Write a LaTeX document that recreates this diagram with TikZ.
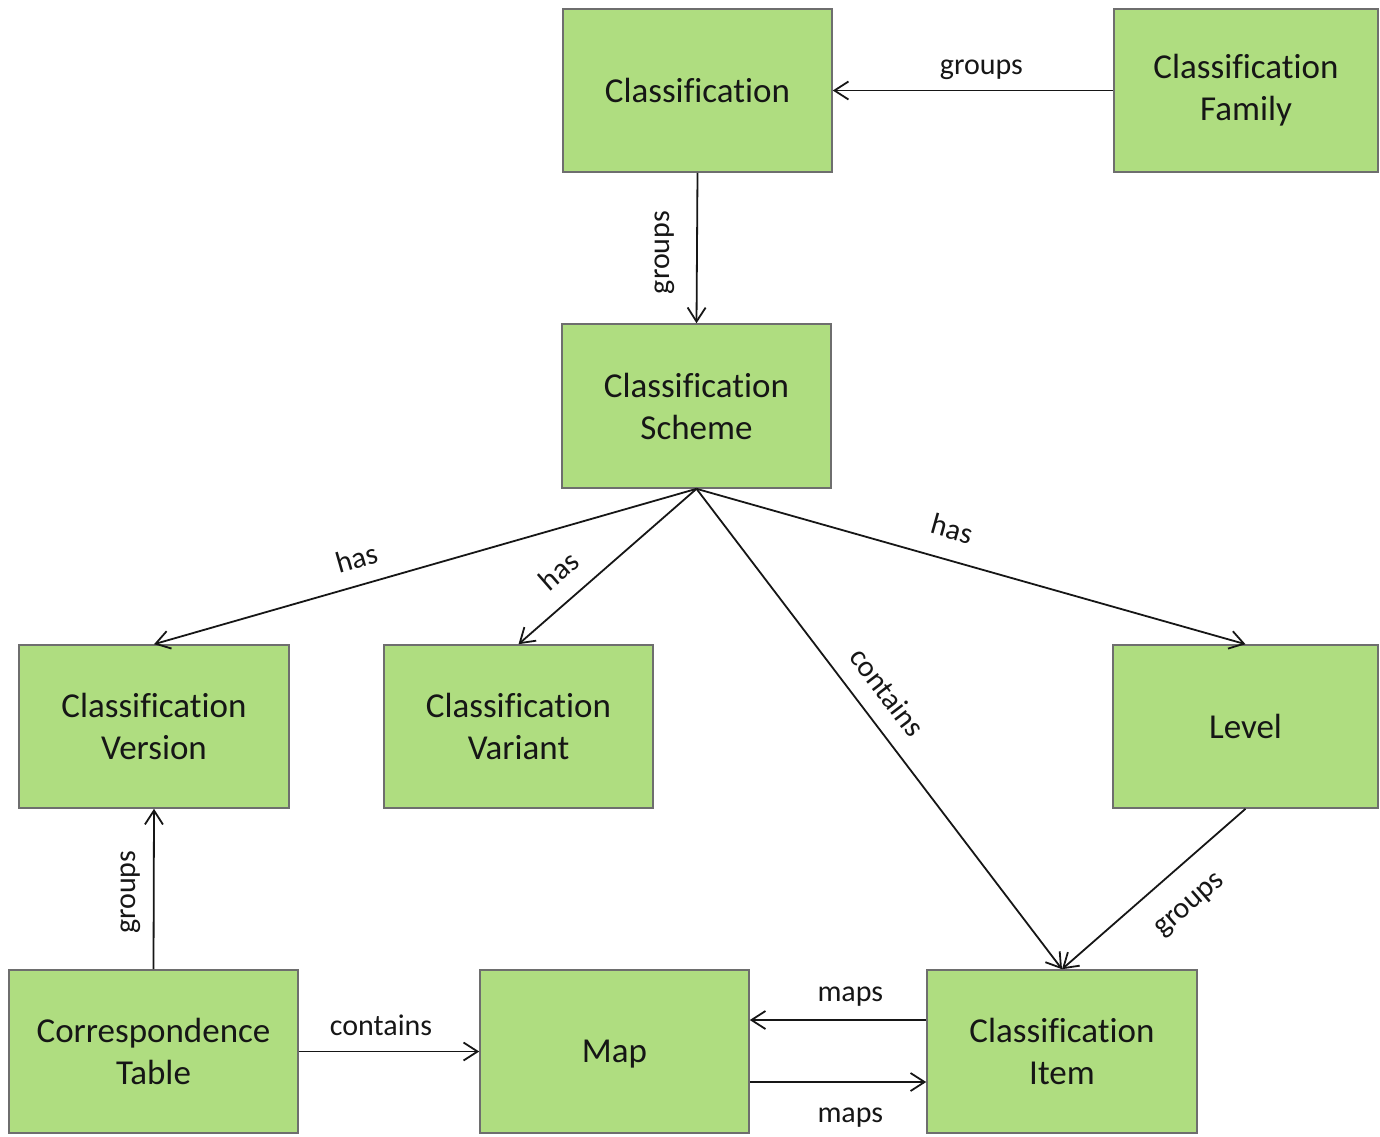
\documentclass[tikz,border=0pt]{standalone}
\usepackage{fontspec}
\setmainfont{Carlito}[Ligatures=NoCommon]
\usetikzlibrary{arrows.meta}
\definecolor{boxfill}{RGB}{175,221,128}
\definecolor{boxline}{RGB}{110,110,110}
\definecolor{ink}{RGB}{22,22,22}
\begin{document}
\begin{tikzpicture}[x=0.5pt,y=-0.5pt,
 box/.style={draw=boxline, line width=0.8pt, fill=boxfill, align=center, inner sep=0pt,
   font=\fontsize{17.5}{21}\selectfont, text=ink, minimum height=81.5pt},
 arr/.style={draw=ink, line width=0.9pt, -{Straight Barb[length=7pt,width=9pt]}},
 lbl/.style={font=\fontsize{15}{18}\selectfont, text=ink, inner sep=0pt, text height=0pt, text depth=0pt}]
\useasboundingbox (0,0) rectangle (1380,1136);
\node[box, minimum width=134.5pt] (cls) at (697.5,90.5) {Classification};
\node[box, minimum width=132pt] (fam) at (1246,90.5) {Classification\\Family};
\node[box, minimum width=134.5pt, minimum height=82pt] (sch) at (696.5,406) {Classification\\Scheme};
\node[box, minimum width=135pt] (ver) at (154,726.5) {Classification\\Version};
\node[box, minimum width=134.5pt] (var) at (518.5,726.5) {Classification\\Variant};
\node[box, minimum width=132.5pt] (lev) at (1245.5,726.5) {Level};
\node[box, minimum width=144.5pt] (cor) at (153.5,1051.5) {Correspondence\\Table};
\node[box, minimum width=134.5pt, text depth=0pt] (map) at (614.5,1051.5) {Map};
\node[box, minimum width=135pt] (itm) at (1062,1051.5) {Classification\\Item};

\draw[arr] (fam.west) -- (cls.east) node[lbl, pos=0.47, above=7pt] {groups};
\draw[arr] (cls.south) -- (sch.north) node[lbl, pos=0.53, xshift=-13pt, rotate=90, anchor=south] {groups};
\draw[arr] (sch.south) -- (ver.north) node[lbl, pos=0.613, sloped, above=7.5pt] {has};
\draw[arr] (sch.south) -- (var.north) node[lbl, pos=0.668, sloped, above=8.5pt] {has};
\draw[arr] (sch.south) -- (lev.north) node[lbl, pos=0.45, sloped, above=9.5pt] {has};
\draw[arr] (sch.south) -- (itm.north) node[lbl, pos=0.46, sloped, above=8.3pt] {contains};
\draw[arr] (lev.south) -- (itm.north) node[lbl, pos=0.432, sloped, below=20pt] {groups};
\draw[arr] (cor.north) -- (ver.south) node[lbl, pos=0.48, xshift=-8pt, rotate=90, anchor=south] {groups};
\draw[arr] (cor.east) -- (map.west) node[lbl, pos=0.456, above=7pt] {contains};
\draw[arr] ([yshift=15.75pt]itm.west) -- ([yshift=15.75pt]map.east) node[lbl, pos=0.43, above=8.5pt] {maps};
\draw[arr] ([yshift=-15.25pt]map.east) -- ([yshift=-15.25pt]itm.west) node[lbl, pos=0.57, below=19.5pt] {maps};
\end{tikzpicture}
\end{document}
